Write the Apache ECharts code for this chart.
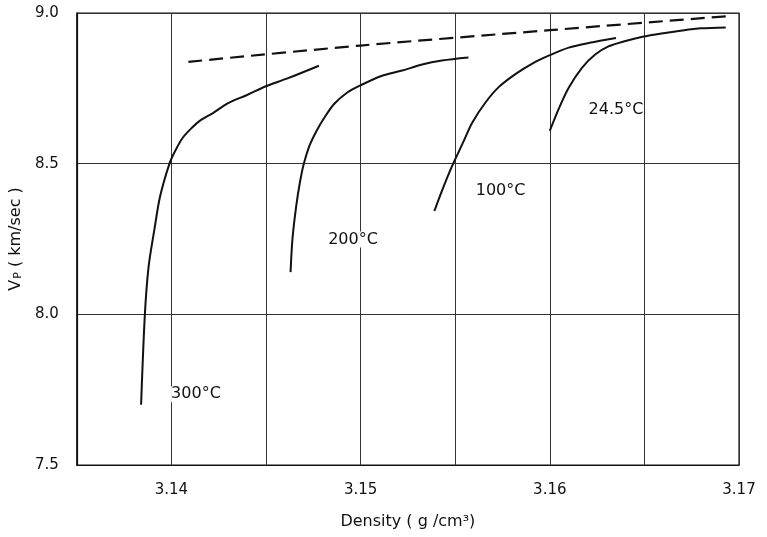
<!DOCTYPE html>
<html>
<head>
<meta charset="utf-8">
<script src="https://cdn.jsdelivr.net/npm/echarts@6/dist/echarts.min.js"></script>
<style>
  html, body { margin: 0; padding: 0; background: #fff; }
  #chart { width: 767px; height: 537px; }
</style>
</head>
<body>
<div id="chart"></div>
<script>
// density (g/cm3), Vp (km/sec)
const curve300 = [
  [3.1384, 7.70], [3.1386, 8.00], [3.1388, 8.16], [3.1391, 8.28], [3.1394, 8.39],
  [3.1399, 8.50], [3.1402, 8.542], [3.1406, 8.586], [3.1411, 8.62], [3.1415, 8.642],
  [3.1422, 8.668], [3.1430, 8.701], [3.1440, 8.728], [3.1450, 8.757], [3.1461, 8.782],
  [3.1478, 8.825]
];
const curve200 = [
  [3.1463, 8.14], [3.1464, 8.25], [3.1466, 8.36], [3.1468, 8.44], [3.1470, 8.50],
  [3.1473, 8.56], [3.1477, 8.612], [3.1481, 8.654], [3.1486, 8.698], [3.1493, 8.736],
  [3.1500, 8.76], [3.1511, 8.791], [3.1522, 8.809], [3.1532, 8.828], [3.1543, 8.842],
  [3.1557, 8.852]
];
const curve100 = [
  [3.1539, 8.343], [3.1543, 8.41], [3.1548, 8.487], [3.1554, 8.568], [3.1559, 8.636],
  [3.1566, 8.703], [3.1573, 8.754], [3.1582, 8.798], [3.1591, 8.833], [3.1600, 8.86],
  [3.1610, 8.885], [3.1621, 8.901], [3.1635, 8.917]
];
const curve245 = [
  [3.1600, 8.609], [3.1605, 8.686], [3.1610, 8.752], [3.1617, 8.818], [3.1624, 8.862],
  [3.1631, 8.889], [3.1640, 8.907], [3.1649, 8.921], [3.1659, 8.932], [3.1670, 8.942],
  [3.1680, 8.949], [3.1693, 8.952]
];
const dashedLine = [
  [3.1409, 8.838], [3.1500, 8.892], [3.1600, 8.943], [3.1695, 8.99]
];
const curveLabels = [
  [3.1413, 7.735, '300°C'],
  [3.1496, 8.248, '200°C'],
  [3.1574, 8.409, '100°C'],
  [3.1635, 8.679, '24.5°C']
];

const ink = '#111';
const font = 'DejaVu Sans';

const solid = (data) => ({
  type: 'line',
  data,
  smooth: 0.3,
  symbol: 'none',
  lineStyle: { color: ink, width: 2 },
  z: 3
});

const chart = echarts.init(document.getElementById('chart'), null, { renderer: 'canvas' });
chart.setOption({
  animation: false,
  backgroundColor: '#fff',
  textStyle: { fontFamily: font, color: ink },
  grid: {
    left: 76, right: 28, top: 13, bottom: 72,
    show: true, borderColor: ink, borderWidth: 1.2
  },
  xAxis: {
    type: 'value',
    min: 3.135, max: 3.17, interval: 0.005,
    name: 'Density ( g /cm³)',
    nameLocation: 'middle',
    nameGap: 49,
    nameTextStyle: { fontFamily: font, fontSize: 16, color: ink },
    axisLine: { show: true, lineStyle: { color: ink, width: 1.2 } },
    axisTick: { show: false },
    axisLabel: {
      margin: 18, fontSize: 15, color: ink, fontFamily: font,
      formatter: (v) => Math.abs(v * 100 - Math.round(v * 100)) < 1e-6 ? v.toFixed(2) : ''
    },
    splitLine: { show: true, lineStyle: { color: '#333', width: 1 } }
  },
  yAxis: {
    type: 'value',
    min: 7.5, max: 9.0, interval: 0.5,
    name: '{a|V}{b|P}{a| ( km/sec )}',
    nameLocation: 'middle',
    nameGap: 45,
    nameRotate: 90,
    nameTextStyle: {
      rich: {
        a: { fontFamily: font, fontSize: 16, color: ink },
        b: { fontFamily: font, fontSize: 11, color: ink, verticalAlign: 'bottom', padding: [0, 0, 0, 1] }
      }
    },
    axisLine: { show: true, lineStyle: { color: ink, width: 1.2 } },
    axisTick: { show: false },
    axisLabel: {
      margin: 18, fontSize: 15, color: ink, fontFamily: font,
      formatter: (v) => v.toFixed(1)
    },
    splitLine: { show: true, lineStyle: { color: '#333', width: 1 } }
  },
  series: [
    solid(curve300),
    solid(curve200),
    solid(curve100),
    solid(curve245),
    {
      type: 'line',
      data: dashedLine,
      smooth: 0.3,
      symbol: 'none',
      lineStyle: { color: ink, width: 2.2, type: [14, 7] },
      z: 3
    },
    {
      type: 'scatter',
      data: curveLabels,
      symbolSize: 1,
      itemStyle: { color: 'rgba(0,0,0,0)', opacity: 1 },
      label: {
        show: true,
        position: 'inside',
        formatter: (p) => p.data[2],
        fontFamily: font,
        fontSize: 16,
        color: ink,
        opacity: 1,
        backgroundColor: '#fff'
      },
      z: 4
    }
  ]
});
</script>
</body>
</html>
